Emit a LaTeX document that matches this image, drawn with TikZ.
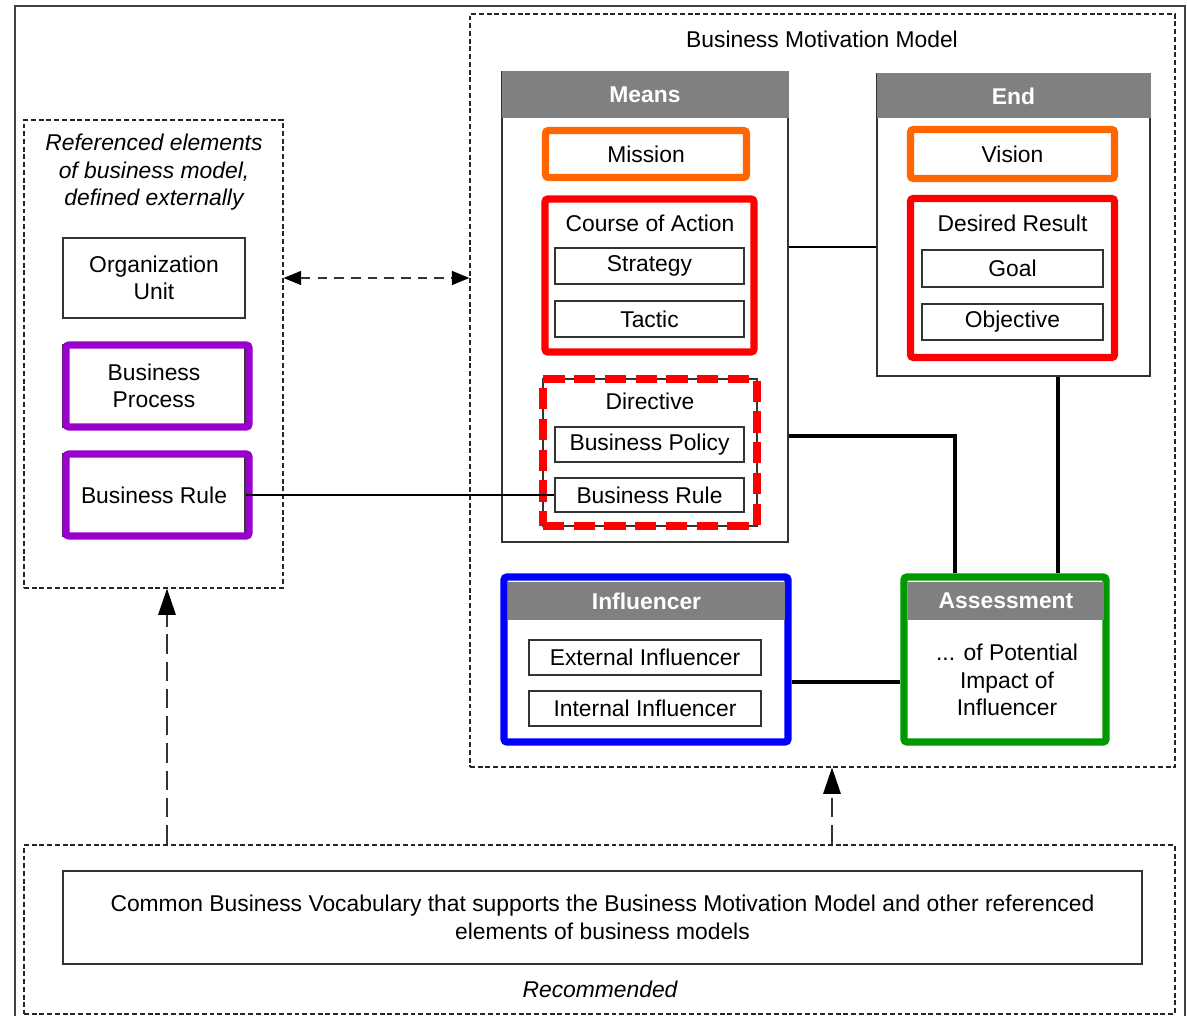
\documentclass[tikz,border=0pt]{standalone}
\usepackage{fontspec}
\setmainfont{Liberation Sans}
\usetikzlibrary{arrows.meta}
\definecolor{hdrgray}{RGB}{128,128,128}
\definecolor{bmmorange}{RGB}{255,102,0}
\definecolor{bmmpurple}{RGB}{153,0,204}
\definecolor{bmmgreen}{RGB}{0,153,0}
\definecolor{framegray}{RGB}{64,64,64}

\begin{document}
\begin{tikzpicture}[x=0.02cm,y=-0.02cm,
  every node/.style={font=\fontsize{13}{15.6}\selectfont, inner sep=0pt, align=center},
  boxsize/.style 2 args={minimum width=#1*0.02cm, minimum height=#2*0.02cm},
  thinbox/.style={draw=black!80, line width=0.8pt},
  dashbox/.style={draw=black!85, line width=0.7pt, dash pattern=on 2.8pt off 1.6pt},
  header/.style={fill=hdrgray, text=white, font=\fontsize{13}{15.6}\selectfont\bfseries},
  hilite/.style={draw=#1, line width=4pt, rounded corners=1.5pt},
  redsplit/.style={draw=red, line width=4pt, dash pattern=on 12pt off 5.5pt},
  link/.style={line width=0.8pt},
  heavylink/.style={line width=2.2pt},
  dasharrow/.style={draw=black!80, line width=0.8pt, dash pattern=on 11pt off 4.5pt, -{Triangle[length=15pt,width=10pt,color=black]}},
  shortdash/.style={draw=black!80, line width=0.8pt, dash pattern=on 5.5pt off 4pt},
]
\useasboundingbox (0,0) rectangle (1187,1016);
\draw[framegray, line width=1.2pt] (15,1016) -- (15,6) -- (1185,6) -- (1185,1016);

% referenced elements
\node[dashbox, boxsize={259}{468}] (refbox) at (153.5,354) {};
\node[font=\fontsize{13}{15.6}\selectfont\itshape] (reftitle) at (154,172.5) {Referenced elements\\of business model,\\defined externally};
\node[thinbox, boxsize={182}{80}] (org) at (154,278) {Organization\\Unit};
\node[thinbox, boxsize={182}{82}] (proc) at (154,386) {Business\\Process};
\node[hilite=bmmpurple, boxsize={183}{82}] (procmark) at (157.5,386) {};
\node[thinbox, boxsize={182}{82}] (rule) at (154,495) {Business Rule};
\node[hilite=bmmpurple, boxsize={183}{82}] (rulemark) at (157.5,495) {};

% business motivation model
\node[dashbox, boxsize={705}{753}] (bmm) at (822.5,390.5) {};
\node (bmmtitle) at (822,39) {Business Motivation Model};

% means
\node[thinbox, boxsize={286}{470}] (means) at (645,307) {};
\node[header, boxsize={287}{47}] (meanshdr) at (645,95) {Means};
\node[hilite=bmmorange, boxsize={201}{47}] (mission) at (646,154) {Mission};
\node[hilite=red, boxsize={209}{153}] (coa) at (649.5,275.5) {};
\node (coatitle) at (650,223) {Course of Action};
\node[thinbox, boxsize={189}{36}] (strategy) at (649.5,266) {Strategy};
\node[thinbox, boxsize={189}{36}] (tactic) at (649.5,319) {Tactic};
\node[thinbox, boxsize={214}{147}] (dirbase) at (650,452.5) {};
\node[redsplit, boxsize={214}{147}] (directive) at (650,452.5) {};
\node (dirtitle) at (650,401) {Directive};
\node[thinbox, boxsize={189}{35}] (policy) at (649.5,444.5) {Business Policy};
\node[thinbox, boxsize={189}{34}] (dirrule) at (649.5,495) {Business Rule};

% end
\node[thinbox, boxsize={273}{302}] (endbox) at (1013.5,225) {};
\node[header, boxsize={274}{45}] (endhdr) at (1013.5,96) {End};
\node[hilite=bmmorange, boxsize={204}{49}] (vision) at (1012.5,154) {Vision};
\node[hilite=red, boxsize={204}{159}] (result) at (1012.5,278) {};
\node (resulttitle) at (1012.5,223) {Desired Result};
\node[thinbox, boxsize={181}{37}] (goal) at (1012.5,268.5) {Goal};
\node[thinbox, boxsize={181}{36}] (objective) at (1012.5,322) {Objective};

% influencer and assessment
\node[hilite=blue, boxsize={284}{165}] (infl) at (646,659.5) {};
\node[header, boxsize={277}{38}] (inflhdr) at (646.5,601) {Influencer};
\node[thinbox, boxsize={232}{35}] (extinfl) at (645,657.5) {External Influencer};
\node[thinbox, boxsize={232}{35}] (intinfl) at (645,708.5) {Internal Influencer};
\node[hilite=bmmgreen, boxsize={202}{165}] (assess) at (1005,659.5) {};
\node[header, boxsize={196}{38}] (assesshdr) at (1006,601) {Assessment};
\node (assesstext) at (1007,680) {... of Potential\\Impact of\\Influencer};

% recommended
\node[dashbox, boxsize={1151}{169}] (recbox) at (599.5,929.5) {};
\node[thinbox, boxsize={1079}{93}] (vocab) at (602.5,917.5) {Common Business Vocabulary that supports the Business Motivation Model and other referenced\\elements of business models};
\node[font=\fontsize{13}{15.6}\selectfont\itshape] (rectitle) at (600,989) {Recommended};

% connectors
\draw[link] (rule.east) -- (dirrule.west);
\draw[line width=1.6pt] (means.east |- 0,247) -- (endbox.west |- 0,247);
\draw[heavylink] (means.east |- 0,436) -| (955,0 |- assess.north);
\draw[heavylink] (endbox.south -| 1058,0) -- (assess.north -| 1058,0);
\draw[heavylink] ([yshift=-0.45cm]infl.east) -- ([yshift=-0.45cm]assess.west);
\draw[shortdash, {Triangle[length=10pt,width=8pt,color=black]}-{Triangle[length=10pt,width=8pt,color=black]}] (refbox.east |- org) -- (bmm.west |- org);
\draw[dasharrow] (recbox.north -| 167,0) -- (refbox.south -| 167,0);
\draw[dasharrow] (recbox.north -| 832,0) -- (bmm.south -| 832,0);
\end{tikzpicture}
\end{document}
